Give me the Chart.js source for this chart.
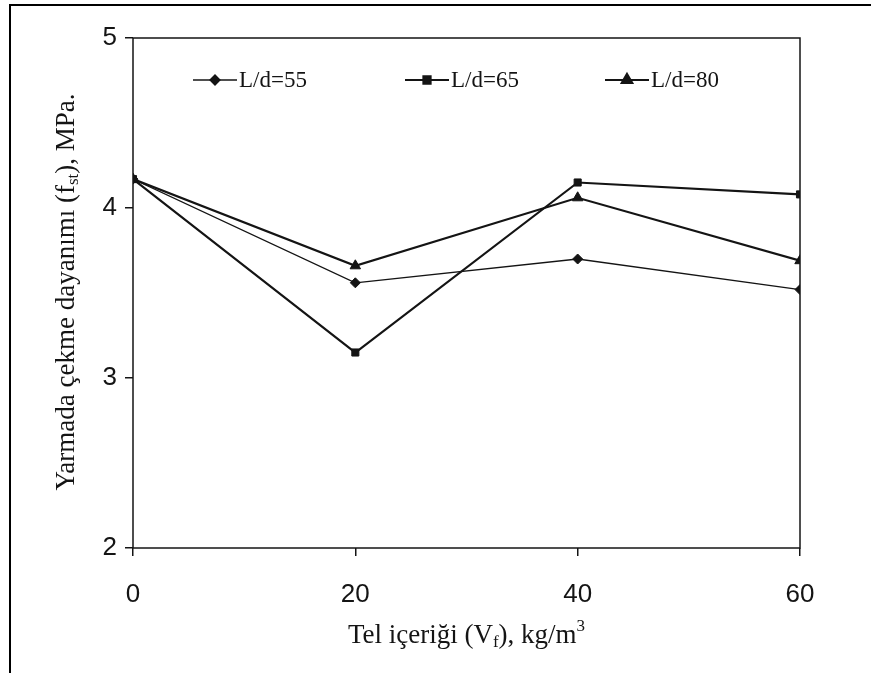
<!DOCTYPE html>
<html>
<head>
<meta charset="utf-8">
<script src="https://cdn.jsdelivr.net/npm/chart.js@4.4.1/dist/chart.umd.min.js"></script>
<style>
  body { margin: 0; background: #fff; }
  #wrap { width: 871px; height: 673px; }
</style>
</head>
<body>
<div id="wrap"><canvas id="myChart" width="871" height="673"></canvas></div>
<script>
// chart data
const xValues = [0, 20, 40, 60];
const seriesNames = ["L/d=55", "L/d=65", "L/d=80"];
const ld55 = [4.17, 3.56, 3.70, 3.52];
const ld65 = [4.17, 3.15, 4.15, 4.08];
const ld80 = [4.17, 3.66, 4.06, 3.69];
const xTicks = [0, 20, 40, 60];
const yTicks = [2, 3, 4, 5];

const ink = "#141414";
const serif = "'Liberation Serif', 'DejaVu Serif', serif";
const sans = "'Liberation Sans', Arial, sans-serif";

function toPoints(arr) {
    return arr.map((v, i) => ({ x: xValues[i], y: v }));
}

// frame, plot box, axis titles, legend
const decorPlugin = {
    id: "decor",
    beforeDraw(chart) {
        const c = chart.ctx;
        c.save();
        c.fillStyle = "#fff";
        c.fillRect(0, 0, chart.width, chart.height);
        c.strokeStyle = "#000";
        c.lineWidth = 2;
        c.beginPath();
        c.moveTo(10, chart.height);
        c.lineTo(10, 5);
        c.lineTo(chart.width, 5);
        c.stroke();
        c.restore();
    },
    afterDraw(chart) {
        const c = chart.ctx;
        const a = chart.chartArea;
        c.save();
        c.strokeStyle = ink;
        c.lineWidth = 1.5;
        c.strokeRect(a.left, a.top, a.right - a.left, a.bottom - a.top);

        // y axis title with subscript
        c.fillStyle = ink;
        c.textBaseline = "alphabetic";
        const big = "27px " + serif, small = "17px " + serif;
        const parts = [
            ["Yarmada çekme dayanımı (f", big, 0],
            ["st", small, 4],
            ["), MPa.", big, 0]
        ];
        c.translate(74, 292);
        c.rotate(-Math.PI / 2);
        let total = 0;
        parts.forEach(p => { c.font = p[1]; total += c.measureText(p[0]).width; });
        let x = -total / 2;
        parts.forEach(p => {
            c.font = p[1];
            c.fillText(p[0], x, p[2]);
            x += c.measureText(p[0]).width;
        });
        c.setTransform(1, 0, 0, 1, 0, 0);

        // x axis title
        const xparts = [
            ["Tel içeriği (V", big, 0],
            ["f", small, 4],
            ["), kg/m", big, 0],
            ["3", small, -12]
        ];
        total = 0;
        xparts.forEach(p => { c.font = p[1]; total += c.measureText(p[0]).width; });
        x = (a.left + a.right) / 2 - total / 2;
        xparts.forEach(p => {
            c.font = p[1];
            c.fillText(p[0], x, 643 + p[2]);
            x += c.measureText(p[0]).width;
        });

        // legend inside plot
        const legendX = [193, 405, 605];
        const ly = 80;
        chart.data.datasets.forEach((ds, i) => {
            const x0 = legendX[i];
            c.strokeStyle = ink;
            c.lineWidth = ds.borderWidth;
            c.beginPath();
            c.moveTo(x0, ly);
            c.lineTo(x0 + 44, ly);
            c.stroke();
            Chart.helpers.drawPoint(c, {
                pointStyle: ds.pointStyle,
                radius: ds.pointRadius,
                borderWidth: 1
            }, x0 + 22, ly);
            c.font = "23px " + serif;
            c.fillStyle = ink;
            c.textBaseline = "middle";
            c.fillText(ds.label, x0 + 46, ly + 1);
        });
        c.restore();
    }
};

const ctx = document.getElementById("myChart").getContext("2d");
const myChart = new Chart(ctx, {
    type: "line",
    data: {
        datasets: [
            {
                label: seriesNames[0],
                data: toPoints(ld55),
                borderColor: ink,
                backgroundColor: ink,
                borderWidth: 1.3,
                pointStyle: "rectRot",
                pointRadius: 5,
                pointBorderWidth: 1
            },
            {
                label: seriesNames[1],
                data: toPoints(ld65),
                borderColor: ink,
                backgroundColor: ink,
                borderWidth: 2.2,
                pointStyle: "rect",
                pointRadius: 5,
                pointBorderWidth: 1
            },
            {
                label: seriesNames[2],
                data: toPoints(ld80),
                borderColor: ink,
                backgroundColor: ink,
                borderWidth: 2.2,
                pointStyle: "triangle",
                pointRadius: 6,
                pointBorderWidth: 1
            }
        ]
    },
    options: {
        responsive: false,
        animation: false,
        layout: { padding: { top: 38, right: 71, left: 0, bottom: 0 } },
        plugins: {
            legend: { display: false },
            tooltip: { enabled: false }
        },
        scales: {
            x: {
                type: "linear",
                min: 0,
                max: 60,
                afterBuildTicks: s => { s.ticks = xTicks.map(v => ({ value: v })); },
                afterFit: s => { s.height = 125; },
                grid: { drawOnChartArea: false, drawTicks: true, tickLength: 8, color: ink, lineWidth: 1.5 },
                border: { display: false },
                ticks: { color: ink, font: { family: sans, size: 26 }, padding: 23, maxRotation: 0 }
            },
            y: {
                min: 2,
                max: 5,
                afterBuildTicks: s => { s.ticks = yTicks.map(v => ({ value: v })); },
                afterFit: s => { s.width = 133; },
                grid: { drawOnChartArea: false, drawTicks: true, tickLength: 8, color: ink, lineWidth: 1.5 },
                border: { display: false },
                ticks: { color: ink, font: { family: sans, size: 26 }, padding: 8 }
            }
        }
    },
    plugins: [decorPlugin]
});
</script>
</body>
</html>
